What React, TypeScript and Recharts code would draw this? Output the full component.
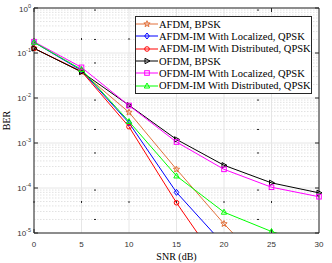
import React from 'react';
import { LineChart, Line, XAxis, YAxis, CartesianGrid, ReferenceLine, Legend } from 'recharts';

// SNR in dB
const snr = [0, 5, 10, 15, 20, 25, 30];

// BER (points under 1e-5 are clipped, as in the original)
const afdmBpsk = [0.127, 0.038, 0.0048, 2.6e-4, 1.6e-5, 1.25e-6, null];
const afdmImLocalized = [0.173, 0.041, 0.0028, 8.0e-5, 5.5e-6, null, null];
const afdmImDistributed = [0.127, 0.039, 0.0023, 4.7e-5, 1.4e-6, null, null];
const ofdmBpsk = [0.127, 0.038, 0.0069, 1.2e-3, 3.2e-4, 1.3e-4, 7.8e-5];
const ofdmImLocalized = [0.178, 0.048, 0.0068, 1.05e-3, 2.6e-4, 1.04e-4, 6.4e-5];
const ofdmImDistributed = [0.173, 0.043, 0.003, 1.85e-4, 2.9e-5, 1.08e-5, 5e-6];

const xTicks = [0, 5, 10, 15, 20, 25, 30];
const xMinorTicks = Array.from({ length: 31 }, (_, i) => i);
const yTicks = [1e-5, 1e-4, 1e-3, 1e-2, 1e-1, 1];
const yExponents = ['-5', '-4', '-3', '-2', '-1', '0'];
const yMinorTicks = yTicks.slice(0, -1).flatMap((d) => [2, 3, 4, 5, 6, 7, 8, 9].map((k) => k * d));

const series = [
  { key: 'afdmBpsk', name: 'AFDM, BPSK', values: afdmBpsk, color: '#e2703a', shape: 'star' },
  { key: 'afdmImLocalized', name: 'AFDM-IM With Localized, QPSK', values: afdmImLocalized, color: '#0000ff', shape: 'diamond' },
  { key: 'afdmImDistributed', name: 'AFDM-IM With Distributed, QPSK', values: afdmImDistributed, color: '#ff0000', shape: 'circle' },
  { key: 'ofdmBpsk', name: 'OFDM, BPSK', values: ofdmBpsk, color: '#000000', shape: 'triRight' },
  { key: 'ofdmImLocalized', name: 'OFDM-IM With Localized, QPSK', values: ofdmImLocalized, color: '#ff00ff', shape: 'square' },
  { key: 'ofdmImDistributed', name: 'OFDM-IM With Distributed, QPSK', values: ofdmImDistributed, color: '#00ff00', shape: 'triUp' },
];

const data = snr.map((s, i) => {
  const row: any = { snr: s };
  series.forEach((sr) => (row[sr.key] = sr.values[i]));
  return row;
});

const AXIS = '#262626';
const SANS = '"Liberation Sans", Arial, sans-serif';
const SERIF = '"Liberation Serif", "Times New Roman", serif';

function Marker({ shape, cx, cy, color }: { shape: string; cx: number; cy: number; color: string }) {
  const p = { fill: 'none', stroke: color, strokeWidth: 1 };
  if (shape === 'circle') return <circle cx={cx} cy={cy} r={2.3} {...p} />;
  if (shape === 'square') return <rect x={cx - 2.3} y={cy - 2.3} width={4.6} height={4.6} {...p} />;
  if (shape === 'diamond')
    return <polygon points={`${cx},${cy - 3} ${cx + 2.3},${cy} ${cx},${cy + 3} ${cx - 2.3},${cy}`} {...p} />;
  if (shape === 'triUp')
    return <polygon points={`${cx},${cy - 3} ${cx + 2.7},${cy + 2} ${cx - 2.7},${cy + 2}`} {...p} />;
  if (shape === 'triRight')
    return <polygon points={`${cx + 3},${cy} ${cx - 2},${cy - 2.7} ${cx - 2},${cy + 2.7}`} {...p} />;
  // five-pointed star
  const pts: string[] = [];
  for (let i = 0; i < 10; i++) {
    const r = i % 2 === 0 ? 3.3 : 1.4;
    const a = -Math.PI / 2 + (i * Math.PI) / 5;
    pts.push(`${cx + r * Math.cos(a)},${cy + r * Math.sin(a)}`);
  }
  return <polygon points={pts.join(' ')} {...p} />;
}

const noTick = () => <g />;

const XTickLabel = ({ x, y, payload }: any) => (
  <text x={x} y={y + 14} textAnchor="middle" fontSize={8} fontFamily={SANS} fill="#333">
    {payload.value}
  </text>
);

const YTickLabel = ({ x, y, payload, index }: any) => {
  const i = yTicks.indexOf(payload.value);
  return (
    <text x={x - 3} y={y + 3} textAnchor="end" fontFamily={SANS} fill="#333">
      <tspan fontSize={8}>10</tspan>
      <tspan fontSize={5.5} dy={-4}>{yExponents[i >= 0 ? i : index]}</tspan>
    </text>
  );
};

const renderLegend = () => (
  <div
    style={{
      background: '#fff',
      border: `1px solid ${AXIS}`,
      width: 177,
      boxSizing: 'border-box',
      padding: '1px 0',
      fontFamily: SERIF,
      fontSize: 10.5,
      color: '#000',
    }}
  >
    {series.map((s) => (
      <div key={s.key} style={{ display: 'flex', alignItems: 'center', height: 12.3, whiteSpace: 'nowrap' }}>
        <svg width={22} height={12} style={{ flex: 'none' }}>
          <line x1={0} x2={22} y1={6} y2={6} stroke={s.color} strokeWidth={1} />
          <Marker shape={s.shape} cx={11} cy={6} color={s.color} />
        </svg>
        <span style={{ marginLeft: 1 }}>{s.name}</span>
      </div>
    ))}
  </div>
);

export default function App() {
  return (
    <div style={{ position: 'absolute', left: 0, top: 0, width: 332, height: 263, background: '#fff' }}>
      <LineChart width={332} height={263} data={data} margin={{ top: 8, right: 13, bottom: 0, left: 0 }}>
        <CartesianGrid xAxisId="x" yAxisId="y" stroke="#e6e6e6" strokeWidth={1} />
        {yMinorTicks.map((v) => (
          <ReferenceLine key={v} xAxisId="x" yAxisId="y" y={v} stroke="#e2e2e2" strokeDasharray="1.5 1.5" ifOverflow="hidden" />
        ))}

        <XAxis
          xAxisId="x"
          dataKey="snr"
          type="number"
          domain={[0, 30]}
          ticks={xTicks}
          height={30}
          tickSize={0}
          tickMargin={0}
          tickLine={false}
          axisLine={{ stroke: AXIS }}
          tick={XTickLabel}
          label={{
            content: ({ viewBox }: any) => (
              <text x={viewBox.x + viewBox.width / 2} y={viewBox.y + 27} textAnchor="middle" fontSize={10} fontFamily={SERIF} fill="#000">
                SNR (dB)
              </text>
            ),
          }}
        />
        <XAxis xAxisId="xb" type="number" domain={[0, 30]} ticks={xTicks} mirror tickSize={4} tick={noTick} axisLine={false} tickLine={{ stroke: AXIS }} />
        <XAxis xAxisId="xbm" type="number" domain={[0, 30]} ticks={xMinorTicks} mirror tickSize={2} tick={noTick} axisLine={false} tickLine={{ stroke: AXIS }} />
        <XAxis xAxisId="xt" orientation="top" type="number" domain={[0, 30]} ticks={xTicks} mirror tickSize={4} tick={noTick} axisLine={{ stroke: AXIS }} tickLine={{ stroke: AXIS }} />
        <XAxis xAxisId="xtm" orientation="top" type="number" domain={[0, 30]} ticks={xMinorTicks} mirror tickSize={2} tick={noTick} axisLine={false} tickLine={{ stroke: AXIS }} />

        <YAxis
          yAxisId="y"
          scale="log"
          type="number"
          domain={[1e-5, 1]}
          allowDataOverflow
          ticks={yTicks}
          width={34}
          tickSize={0}
          tickMargin={0}
          tickLine={false}
          axisLine={{ stroke: AXIS }}
          tick={YTickLabel}
          label={{
            content: ({ viewBox }: any) => {
              const cy = viewBox.y + viewBox.height / 2;
              return (
                <text x={10} y={cy} transform={`rotate(-90 10 ${cy})`} textAnchor="middle" fontSize={10} fontFamily={SERIF} fill="#000">
                  BER
                </text>
              );
            },
          }}
        />
        <YAxis yAxisId="yl" scale="log" type="number" domain={[1e-5, 1]} allowDataOverflow ticks={yTicks} mirror tickSize={4} tick={noTick} axisLine={false} tickLine={{ stroke: AXIS }} />
        <YAxis yAxisId="ylm" scale="log" type="number" domain={[1e-5, 1]} allowDataOverflow ticks={yMinorTicks} mirror tickSize={2} tick={noTick} axisLine={false} tickLine={{ stroke: AXIS }} />
        <YAxis yAxisId="yr" orientation="right" scale="log" type="number" domain={[1e-5, 1]} allowDataOverflow ticks={yTicks} mirror tickSize={4} tick={noTick} axisLine={{ stroke: AXIS }} tickLine={{ stroke: AXIS }} />
        <YAxis yAxisId="yrm" orientation="right" scale="log" type="number" domain={[1e-5, 1]} allowDataOverflow ticks={yMinorTicks} mirror tickSize={2} tick={noTick} axisLine={false} tickLine={{ stroke: AXIS }} />

        {series.map((s) => (
          <Line
            key={s.key}
            xAxisId="x"
            yAxisId="y"
            type="linear"
            dataKey={s.key}
            name={s.name}
            stroke={s.color}
            strokeWidth={1}
            isAnimationActive={false}
            connectNulls={false}
            dot={(props: any) =>
              props.value == null ? <g key={props.index} /> : <Marker key={props.index} shape={s.shape} cx={props.cx} cy={props.cy} color={s.color} />
            }
            activeDot={false}
          />
        ))}

        <Legend
          layout="vertical"
          align="center"
          verticalAlign="middle"
          content={renderLegend}
          wrapperStyle={{ left: 135, top: 16, width: 177 }}
        />
      </LineChart>
    </div>
  );
}
